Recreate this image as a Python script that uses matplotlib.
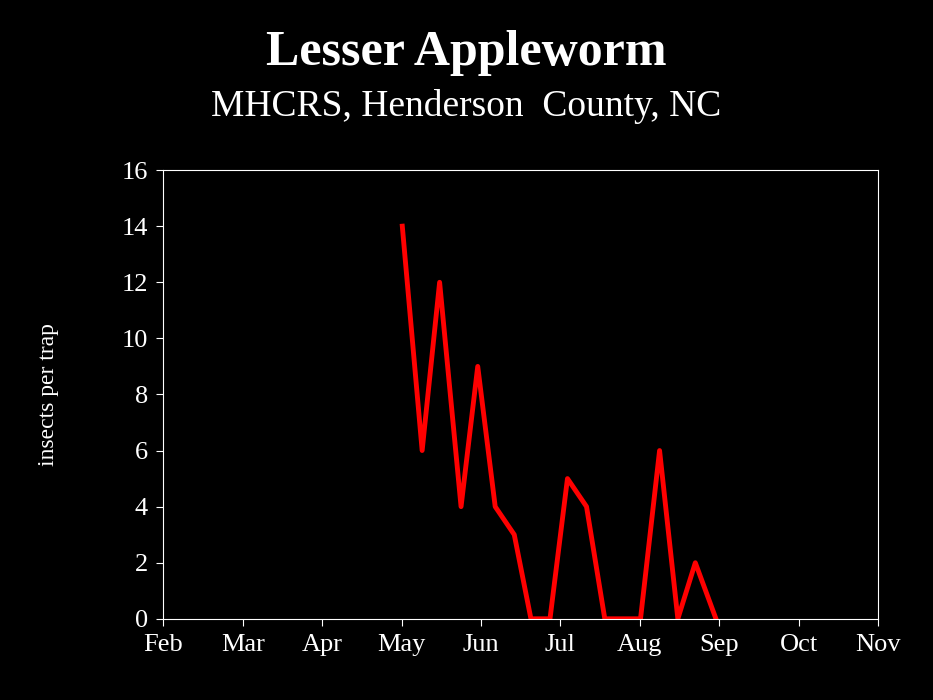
import matplotlib.pyplot as plt

plt.rcParams['font.family'] = ['Liberation Serif', 'DejaVu Serif']

# x in month units (2 = Feb 1, 3 = Mar 1, ...)
month_pos = [2, 3, 4, 5, 6, 7, 8, 9, 10, 11]
month_labels = ["Feb", "Mar", "Apr", "May", "Jun", "Jul", "Aug", "Sep", "Oct", "Nov"]
x_vals = [5.01, 5.26, 5.48, 5.75, 5.96, 6.18, 6.42, 6.63, 6.87, 7.09, 7.33,
          7.56, 8.01, 8.25, 8.48, 8.70, 8.96]
y_vals = [14, 6, 12, 4, 9, 4, 3, 0, 0, 5, 4, 0, 0, 6, 0, 2, 0]

fig = plt.figure(figsize=(9.33, 7), dpi=100, facecolor='black')
ax = fig.add_axes([0.175, 0.116, 0.766, 0.641], facecolor='black')
ax.plot(x_vals, y_vals, color='#ff0000', lw=3.5)

ax.set_xlim(2, 11)
ax.set_ylim(0, 16)
ax.set_xticks(month_pos)
ax.set_xticklabels(month_labels)
ax.set_yticks(range(0, 17, 2))
for s in ax.spines.values():
    s.set_color('white')
ax.tick_params(colors='white', labelsize=19, direction='out', length=5, pad=6)
ax.set_ylabel("insects per trap", color='white', fontsize=17, labelpad=45)

fig.text(0.5, 0.925, "Lesser Appleworm", color='white', fontsize=36,
         fontweight='bold', ha='center', va='center')
fig.text(0.5, 0.848, "MHCRS, Henderson  County, NC", color='white', fontsize=27,
         ha='center', va='center')

fig.savefig("out.png", facecolor='black')
